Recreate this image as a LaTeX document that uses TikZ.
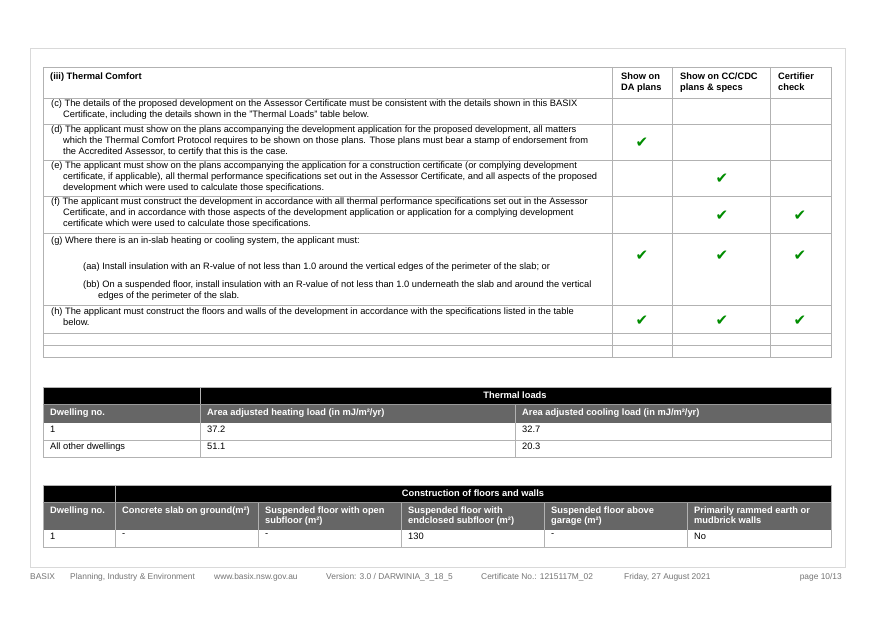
\documentclass[tikz,border=0pt]{standalone}
\usepackage{fontspec}
\setmainfont{Liberation Sans}
\newfontfamily\dv{DejaVu Sans}
\begin{document}
\begin{tikzpicture}[x=1pt,y=-1pt,
  txt/.style={anchor=north west,inner sep=0pt,font=\fontsize{9.3}{11}\selectfont,align=left},
  btxt/.style={txt,font=\fontsize{9.3}{10.5}\selectfont\bfseries},
  wtxt/.style={txt,text=white,font=\fontsize{9.3}{10}\selectfont\bfseries},
  grid/.style={draw=black!30,line width=0.6pt},
  ck/.style={text=green!55!black,font=\dv\fontsize{15}{15}\selectfont,inner sep=0pt},
  foot/.style={anchor=west,inner sep=0pt,text=black!55,font=\fontsize{8.4}{9}\selectfont}]
\useasboundingbox (0,0) rectangle (874,617);
\draw[draw=black!15,line width=0.8pt] (30,48) rectangle (845,567);
% top table
\foreach \y in {98,124,160,196,233,305,333,345} \draw[grid] (43,\y) -- (831,\y);
\draw[grid] (43,67) rectangle (831,357);
\foreach \x in {612,672,770} \draw[grid] (\x,67) -- (\x,357);
\node[btxt] (h0) at (50,73) {(iii) Thermal Comfort};
\node[btxt] (h1) at (621,73) {Show on\\DA plans};
\node[btxt] (h2) at (680,73) {Show on CC/CDC\\plans \& specs};
\node[btxt] (h3) at (778,73) {Certifier\\check};
\node[txt] (rc) at (51,100) {(c) The details of the proposed development on the Assessor Certificate must be consistent with the details shown in this BASIX\\\hspace*{12pt}Certificate, including the details shown in the "Thermal Loads" table below.};
\node[txt] (rd) at (51,126) {(d) The applicant must show on the plans accompanying the development application for the proposed development, all matters\\\hspace*{12pt}which the Thermal Comfort Protocol requires to be shown on those plans. Those plans must bear a stamp of endorsement from\\\hspace*{12pt}the Accredited Assessor, to certify that this is the case.};
\node[txt] (re) at (51,162) {(e) The applicant must show on the plans accompanying the application for a construction certificate (or complying development\\\hspace*{12pt}certificate, if applicable), all thermal performance specifications set out in the Assessor Certificate, and all aspects of the proposed\\\hspace*{12pt}development which were used to calculate those specifications.};
\node[txt] (rf) at (51,198) {(f) The applicant must construct the development in accordance with all thermal performance specifications set out in the Assessor\\\hspace*{12pt}Certificate, and in accordance with those aspects of the development application or application for a complying development\\\hspace*{12pt}certificate which were used to calculate those specifications.};
\node[txt] (rg) at (51,237) {(g) Where there is an in-slab heating or cooling system, the applicant must:};
\node[txt] (rga) at (83,263) {(aa) Install insulation with an R-value of not less than 1.0 around the vertical edges of the perimeter of the slab; or};
\node[txt] (rgb) at (83,281) {(bb) On a suspended floor, install insulation with an R-value of not less than 1.0 underneath the slab and around the vertical\\\hspace*{15pt}edges of the perimeter of the slab.};
\node[txt] (rh) at (51,308) {(h) The applicant must construct the floors and walls of the development in accordance with the specifications listed in the table\\\hspace*{12pt}below.};
\node[ck] (cd1) at (642,143) {✔};
\node[ck] (ce2) at (722,179) {✔};
\node[ck] (cf2) at (722,216) {✔};
\node[ck] (cf3) at (800,216) {✔};
\node[ck] (cg1) at (642,256) {✔};
\node[ck] (cg2) at (722,256) {✔};
\node[ck] (cg3) at (800,256) {✔};
\node[ck] (ch1) at (642,321) {✔};
\node[ck] (ch2) at (722,321) {✔};
\node[ck] (ch3) at (800,321) {✔};
% thermal loads
\fill[black] (43,387) rectangle (831,404);
\fill[black!60] (43,404) rectangle (831,423);
\draw[grid] (43,387) rectangle (831,457);
\draw[grid] (43,440) -- (831,440);
\draw[grid] (200,387) -- (200,457);
\draw[grid] (515,404) -- (515,457);
\draw[draw=black!40] (43,404) -- (831,404);
\node[wtxt,anchor=center] (tl) at (515,395.5) {Thermal loads};
\node[wtxt] (t1) at (50,409) {Dwelling no.};
\node[wtxt] (t2) at (207,409) {Area adjusted heating load (in mJ/m²/yr)};
\node[wtxt] (t3) at (522,409) {Area adjusted cooling load (in mJ/m²/yr)};
\node[txt] (v1) at (50,426) {1};
\node[txt] (v2) at (207,426) {37.2};
\node[txt] (v3) at (522,426) {32.7};
\node[txt] (v4) at (50,443) {All other dwellings};
\node[txt] (v5) at (207,443) {51.1};
\node[txt] (v6) at (522,443) {20.3};
% construction
\fill[black] (43,485) rectangle (831,502);
\fill[black!60] (43,502) rectangle (831,530);
\draw[grid] (43,485) rectangle (831,547);
\draw[grid] (115,485) -- (115,547);
\foreach \x in {258,401,544,687} \draw[grid] (\x,502) -- (\x,547);
\draw[draw=black!40] (43,502) -- (831,502);
\node[wtxt,anchor=center] (cw) at (473,493.5) {Construction of floors and walls};
\node[wtxt] (c0) at (50,507) {Dwelling no.};
\node[wtxt] (c1) at (122,507) {Concrete slab on ground(m²)};
\node[wtxt] (c2) at (265,507) {Suspended floor with open\\subfloor (m²)};
\node[wtxt] (c3) at (408,507) {Suspended floor with\\endclosed subfloor (m²)};
\node[wtxt] (c4) at (551,507) {Suspended floor above\\garage (m²)};
\node[wtxt] (c5) at (694,507) {Primarily rammed earth or\\mudbrick walls};
\node[txt] (d0) at (50,533) {1};
\node[txt] (d1) at (122,533) {-};
\node[txt] (d2) at (265,533) {-};
\node[txt] (d3) at (408,533) {130};
\node[txt] (d4) at (551,533) {-};
\node[txt] (d5) at (694,533) {No};
% footer
\node[foot] (f1) at (30,577) {BASIX};
\node[foot] (f2) at (70,577) {Planning, Industry \& Environment};
\node[foot] (f3) at (214,577) {www.basix.nsw.gov.au};
\node[foot] (f4) at (326,577) {Version: 3.0 / DARWINIA\_3\_18\_5};
\node[foot] (f5) at (481,577) {Certificate No.: 1215117M\_02};
\node[foot] (f6) at (624,577) {Friday, 27 August 2021};
\node[foot,anchor=east] (f7) at (842,577) {page 10/13};
\end{tikzpicture}
\end{document}
